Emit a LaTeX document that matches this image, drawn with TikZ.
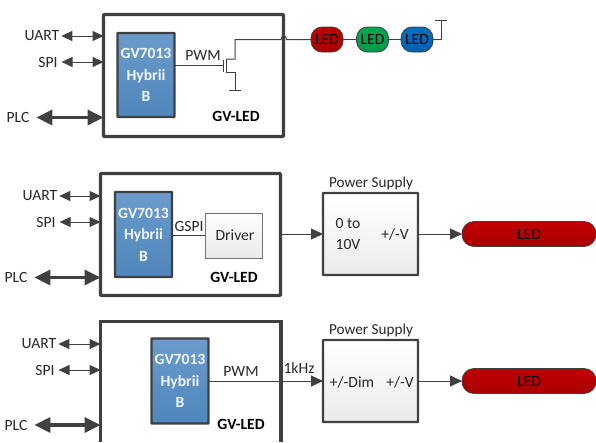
\documentclass[tikz,border=0pt]{standalone}
\usepackage{fontspec}
\setmainfont{Carlito}
\usetikzlibrary{arrows.meta,positioning}
\definecolor{edge}{HTML}{404040}
\definecolor{chipA}{HTML}{6B9BCB}
\definecolor{chipB}{HTML}{4F86BC}
\definecolor{ledRedA}{HTML}{C00000}
\definecolor{ledRedB}{HTML}{A80000}
\definecolor{ledGreenA}{HTML}{00A850}
\definecolor{ledGreenB}{HTML}{009A48}
\definecolor{ledBlueA}{HTML}{0070C0}
\definecolor{ledBlueB}{HTML}{0060B0}
\tikzset{
 x=1pt,y=-1pt,
 every node/.style={font=\fontsize{15.6}{18}\selectfont,text=black!85,inner sep=0pt,outer sep=0pt},
 board/.style={draw=edge,line width=3.2pt,fill=white,rounded corners=1pt,anchor=north west},
 chip/.style={draw=edge,line width=2.4pt,top color=chipA,bottom color=chipB,rounded corners=.5pt,anchor=north west,minimum width=57pt,minimum height=84pt,align=center,text=white!92!chipA,font=\fontsize{15.6}{21.5}\selectfont\bfseries},
 psu/.style={draw=edge,line width=2.2pt,top color=white,bottom color=black!8,rounded corners=.5pt,anchor=north west,minimum width=95pt,minimum height=82pt},
 driverbox/.style={draw=black!55,line width=.8pt,top color=white,bottom color=black!9,anchor=north west,minimum width=57pt,minimum height=45pt},
 ledbar/.style={draw=edge,line width=.8pt,top color=ledRedA,bottom color=ledRedB,rounded corners=12pt,anchor=north west,minimum height=25pt,text=black},
 wire/.style={draw=edge,line width=1pt},
 thinarrow/.style={wire,{Triangle[length=11pt,width=10pt]}-{Triangle[length=11pt,width=10pt]}},
 fatarrow/.style={draw=edge,line width=3.5pt,{Triangle[length=16pt,width=15pt]}-{Triangle[length=16pt,width=15pt]}},
 onearrow/.style={wire,-{Triangle[length=12pt,width=11pt]}},
 boardlabel/.style={font=\fontsize{15.6}{18}\selectfont\bfseries,text=black},
 titlelabel/.style={font=\fontsize{15.2}{18}\selectfont}
}
\begin{document}
\begin{tikzpicture}
\useasboundingbox (0,0) rectangle (596,442);
% --- top
\node[board,minimum width=180pt,minimum height=122pt] (b1) at (103.5,14.5) {};
\node[chip] (c1) at (117.5,33) {GV7013\\Hybrii\\B};
\node[boardlabel] (g1) at (236,116) {GV-LED};
\node (u1) at (42,36) {UART};
\node (s1) at (48,62) {SPI};
\node (p1) at (18,117.5) {PLC};
\coordinate (u1e) at (b1.west |- u1);
\coordinate (s1e) at (b1.west |- s1);
\coordinate (p1e) at (b1.west |- p1);
\draw[thinarrow] (u1.east)++(2,0) -- (u1e);
\draw[thinarrow] (s1.east)++(4,0) -- (s1e);
\draw[fatarrow] (p1.east)++(7,0) -- (p1e);
\node (pw1) at (203,55) {PWM};
\coordinate (gt) at (223,65);
\coordinate (gA) at (223,60);
\coordinate (gB) at (223,72);
\coordinate (dA) at (226,59);
\coordinate (dB) at (226,72);
\coordinate (gnd) at (235,90);
\draw[wire] (c1.east |- gt) -- (gt);
\draw[wire] (gA) -- (gB);
\draw[wire] (dA) -- (dB);
\draw[wire] (gnd) ++(-6,0) -- ++(12,0);
\draw[wire] (dB) -| (gnd);
\node[ledbar,minimum width=32pt,rounded corners=11pt] (l1) at (311,27) {LED};
\node[ledbar,minimum width=32pt,rounded corners=11pt,top color=ledGreenA,bottom color=ledGreenB] (l2) at (356.5,27) {LED};
\node[ledbar,minimum width=32pt,rounded corners=11pt,top color=ledBlueA,bottom color=ledBlueB] (l3) at (401,27) {LED};
\draw[wire] (dA) -| (235,39.5) -- (281,39.5) .. controls (281.5,34.5) and (286,34.5) .. (286.5,39.5) -- (l1.west);
\draw[wire] (l1) -- (l2);
\draw[wire] (l2) -- (l3);
\coordinate (t1) at (441,20);
\draw[wire] (l3.east) -| (t1);
\draw[wire] (t1) ++(-6,0) -- ++(12,0);
% --- middle
\node[board,minimum width=180pt,minimum height=122pt] (b2) at (100.5,173.5) {};
\node[chip,minimum height=85pt] (c2) at (115,192) {GV7013\\Hybrii\\B};
\node[driverbox] (d2) at (205,213) {\hspace{3pt}Driver};
\node[boardlabel] (g2) at (234,277) {GV-LED};
\node (u2) at (40,196) {UART};
\node (s2) at (46,222) {SPI};
\node (p2) at (16,277.5) {PLC};
\coordinate (u2e) at (b2.west |- u2);
\coordinate (s2e) at (b2.west |- s2);
\coordinate (p2e) at (b2.west |- p2);
\draw[thinarrow] (u2.east)++(2,0) -- (u2e);
\draw[thinarrow] (s2.east)++(4,0) -- (s2e);
\draw[fatarrow] (p2.east)++(7,0) -- (p2e);
\node (gs2) at (189,226) {GSPI};
\draw[wire] (c2.east |- d2) -- (d2.west);
\node[psu] (ps2) at (323,193) {};
\node[titlelabel] (t2) at (371,183) {Power Supply};
\node (v2a) at (348,234) [align=center,font=\fontsize{15.6}{21}\selectfont] {0 to\\10V};
\node (v2b) at (395,234) {+/-V};
\node[ledbar,minimum width=134pt] (l4) at (462,221.5) {LED};
\draw[onearrow] (b2.east |- ps2) -- (ps2.west);
\draw[onearrow] (ps2.east) -- (l4.west);
% --- bottom
\draw[draw=edge,line width=3.2pt] (100.5,442) -- (100.5,321.5) coordinate (b3tl) -- (281,321.5) coordinate (b3tr) -- (281,442);
\coordinate (b3l) at (100.5,380);
\coordinate (b3r) at (281,380);
\node[chip,minimum height=85pt] (c3) at (151.5,338.5) {GV7013\\Hybrii\\B};
\node[boardlabel] (g3) at (241,424) {GV-LED};
\node (u3) at (39,344) {UART};
\node (s3) at (45,370) {SPI};
\node (p3) at (16,425) {PLC};
\coordinate (u3e) at (b3l |- u3);
\coordinate (s3e) at (b3l |- s3);
\coordinate (p3e) at (b3l |- p3);
\draw[thinarrow] (u3.east)++(2,0) -- (u3e);
\draw[thinarrow] (s3.east)++(4,0) -- (s3e);
\draw[fatarrow] (p3.east)++(7,0) -- (p3e);
\node (pw3) at (241,371) {PWM};
\node (k3) at (299,368) {1kHz};
\node[psu] (ps3) at (323,340) {};
\node[titlelabel] (t3) at (371,330) {Power Supply};
\node (v3a) at (352,382) {+/-Dim};
\node (v3b) at (400,382) {+/-V};
\node[ledbar,minimum width=134pt] (l5) at (462,368.5) {LED};
\draw[onearrow] (c3.east |- ps3) -- (ps3.west);
\draw[onearrow] (ps3.east) -- (l5.west);
\end{tikzpicture}
\end{document}
